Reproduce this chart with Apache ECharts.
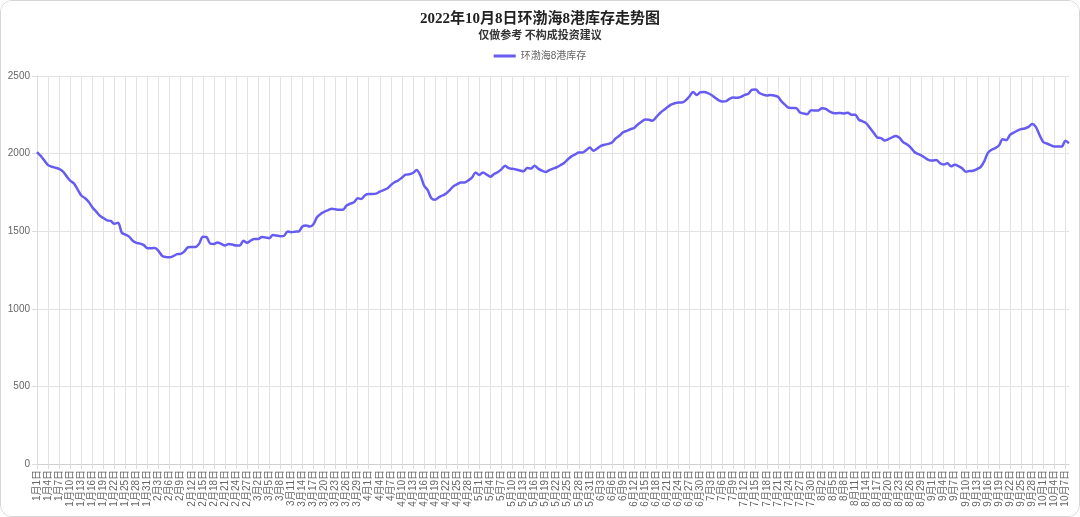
<!DOCTYPE html>
<html><head><meta charset="utf-8">
<script src="https://cdn.jsdelivr.net/npm/echarts@6/dist/echarts.min.js"></script>
<style>
html,body{margin:0;padding:0;background:#fff;}
#card{position:absolute;left:0;top:0;width:1078px;height:515px;border:1px solid #d6d6d6;border-radius:12px;overflow:hidden;background:#fff;}
#c{width:1078px;height:515px;}
</style></head>
<body><div id="card"><div id="c"></div></div>
<script>
const titleText = '2022年10月8日环渤海8港库存走势图';
const subTitleText = '仅做参考 不构成投资建议';
const seriesName = '环渤海8港库存';
const monthDays = [31,28,31,30,31,30,31,31,30,8];
const yTicks = [0,500,1000,1500,2000,2500];
const categories = [];
monthDays.forEach((n,mi)=>{for(let d=1;d<=n;d++)categories.push((mi+1)+'月'+d+'日');});
const stock = [
2010,1985,1955,1926,1915,1909,1902,1885,1855,1826,
1808,1770,1730,1714,1690,1655,1628,1600,1585,1570,
1566,1548,1555,1490,1478,1465,1438,1425,1420,1410,
1390,1390,1392,1372,1340,1333,1332,1340,1352,1354,
1370,1397,1398,1398,1420,1465,1462,1420,1418,1427,
1418,1408,1418,1414,1408,1408,1438,1425,1440,1450,
1450,1462,1460,1455,1475,1472,1468,1470,1498,1494,
1497,1498,1530,1537,1530,1545,1592,1612,1626,1636,
1644,1641,1639,1639,1665,1677,1686,1712,1708,1732,
1740,1740,1742,1755,1765,1775,1797,1815,1827,1845,
1864,1867,1875,1894,1860,1795,1765,1712,1702,1718,
1730,1743,1765,1790,1803,1814,1814,1827,1845,1879,
1862,1879,1865,1851,1868,1880,1898,1922,1906,1902,
1897,1891,1886,1907,1904,1922,1903,1890,1882,1893,
1903,1912,1925,1940,1962,1982,1995,2007,2007,2022,
2039,2018,2033,2050,2057,2063,2072,2098,2115,2137,
2147,2157,2165,2188,2205,2220,2218,2212,2235,2260,
2280,2298,2316,2324,2329,2329,2343,2368,2397,2378,
2395,2397,2390,2378,2360,2343,2336,2338,2355,2361,
2360,2365,2378,2385,2412,2413,2390,2380,2375,2378,
2374,2366,2337,2314,2295,2294,2293,2265,2258,2254,
2280,2277,2278,2293,2288,2272,2262,2260,2262,2259,
2264,2250,2250,2218,2208,2195,2165,2135,2103,2100,
2084,2093,2105,2114,2102,2074,2060,2040,2012,1998,
1987,1972,1958,1955,1958,1938,1930,1938,1918,1928,
1920,1905,1883,1888,1890,1900,1913,1950,2005,2025,
2035,2052,2092,2087,2120,2135,2148,2158,2162,2172,
2190,2172,2120,2075,2065,2055,2046,2046,2045,2082,
2067
];
const chart = echarts.init(document.getElementById('c'));
chart.setOption({
  animation:false,
  backgroundColor:'#fff',
  title:[
    {text:titleText,left:'center',top:6,textStyle:{fontFamily:'"Liberation Serif","Noto Sans CJK SC",serif',fontSize:15,fontWeight:'bold',color:'#222'}},
    {text:subTitleText,left:'center',top:23,textStyle:{fontFamily:'"Noto Sans CJK SC",sans-serif',fontSize:11,fontWeight:'bold',color:'#333'}}
  ],
  legend:{top:45,left:'center',icon:'rect',itemWidth:22,itemHeight:3,itemGap:6,
    textStyle:{fontSize:10,color:'#666',fontFamily:'"Liberation Sans","Noto Sans CJK SC",sans-serif'},data:[seriesName]},
  grid:{left:36,right:10,top:75,bottom:52,containLabel:false},
  xAxis:{type:'category',data:categories,boundaryGap:false,
    axisLine:{lineStyle:{color:'#cfcfcf'}},
    axisTick:{show:true,interval:2,length:5,lineStyle:{color:'#dcdcdc'}},
    axisLabel:{interval:2,rotate:90,fontSize:10,color:'#666',margin:6,fontFamily:'"Liberation Sans","Noto Sans CJK SC",sans-serif'},
    splitLine:{show:true,interval:2,lineStyle:{color:'#e3e3e3'}}},
  yAxis:{type:'value',min:yTicks[0],max:yTicks[yTicks.length-1],interval:500,
    axisLine:{show:true,lineStyle:{color:'#dcdcdc'}},
    axisTick:{show:true,length:5,lineStyle:{color:'#dcdcdc'}},
    axisLabel:{fontSize:10,color:'#666',margin:7,formatter:v=>String(v),fontFamily:'"Liberation Sans",sans-serif'},
    splitLine:{lineStyle:{color:'#e3e3e3'}}},
  series:[{name:seriesName,type:'line',data:stock,smooth:0.3,showSymbol:false,
    lineStyle:{color:'#675cf2',width:2.5},itemStyle:{color:'#675cf2'}}]
});
</script></body></html>
